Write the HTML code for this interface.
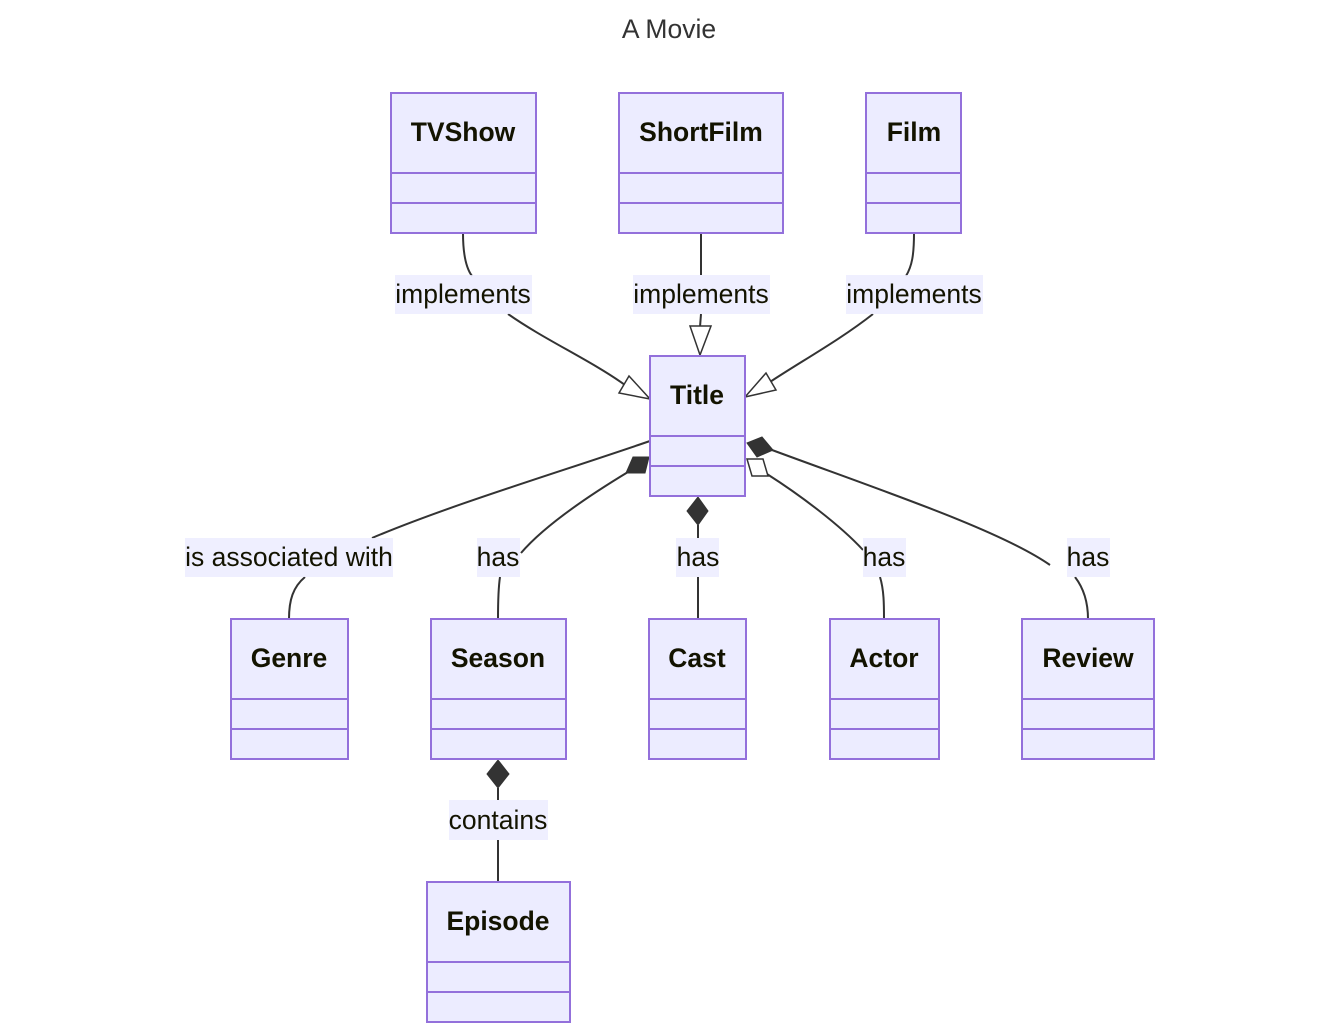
<!DOCTYPE html>
<html><head><meta charset="utf-8"><style>
html,body{margin:0;padding:0;background:#fff;}
svg{display:block;}
.box{fill:#ECECFF;stroke:#9370DB;stroke-width:2;}
.div{stroke:#9370DB;stroke-width:2;}
.cn{font-family:"Liberation Sans",sans-serif;font-weight:bold;font-size:26.5px;fill:#131300;text-anchor:middle;}
.lb{fill:#ECECFF;opacity:0.85;}
.lt{font-family:"Liberation Sans",sans-serif;font-size:26.5px;fill:#131300;text-anchor:middle;}
.e{fill:none;stroke:#333;stroke-width:2;}
.fd{fill:#333;stroke:#333;stroke-width:1;}
.hd{fill:#fff;stroke:#333;stroke-width:1.5;}
</style></head><body>
<svg width="1339" height="1035" viewBox="0 0 1339 1035" xmlns="http://www.w3.org/2000/svg">
<text x="669" y="38" font-family="Liberation Sans, sans-serif" font-size="26.5" fill="#333" text-anchor="middle">A Movie</text>

<path class="e" d="M463,233 C463,255 466,268 472,276"/>
<path class="e" d="M508,314 C545,340 590,360 625,385"/>
<path class="e" d="M701,233 L701,275"/>
<path class="e" d="M701,314 L700,327"/>
<path class="e" d="M914,233 C914,255 912,266 906,276"/>
<path class="e" d="M873,314 C840,340 800,362 770,382"/>
<path class="e" d="M650,441 C560,472 450,505 372,538"/>
<path class="e" d="M305,577 C293,587 289,600 289,619"/>
<path class="e" d="M628,472 C590,495 545,525 521,553"/>
<path class="e" d="M500,577 C498,590 498,605 498,619"/>
<path class="e" d="M698,525 L698,538"/>
<path class="e" d="M698,577 L698,619"/>
<path class="e" d="M767,474 C800,495 840,525 863,550"/>
<path class="e" d="M880,577 C884,590 884,605 884,619"/>
<path class="e" d="M772,450 C880,490 1000,530 1050,565"/>
<path class="e" d="M1075,577 C1085,590 1088,605 1088,619"/>
<path class="e" d="M498,788 L498,800"/>
<path class="e" d="M498,840 L498,882"/>

<polygon class="hd" points="650,399 619,393 629,376"/>
<polygon class="hd" points="700,355 690,326 711,326"/>
<polygon class="hd" points="745,397 776,390 766,373"/>
<polygon class="fd" points="633,457 649,457 645,473 626,473"/>
<polygon class="fd" points="698,497 708,511 698,525 687,511"/>
<polygon class="hd" points="747,459 763,459 768,476 752,476"/>
<polygon class="fd" points="747,443 762,437 773,450 757,457"/>
<polygon class="fd" points="498,760 509,774 498,788 487,774"/>

<rect class="lb" x="395" y="275" width="137" height="39"/><text class="lt" x="463" y="303">implements</text>
<rect class="lb" x="633" y="275" width="137" height="39"/><text class="lt" x="701" y="303">implements</text>
<rect class="lb" x="846" y="275" width="137" height="39"/><text class="lt" x="914" y="303">implements</text>
<rect class="lb" x="185" y="538" width="208" height="39"/><text class="lt" x="289" y="566">is associated with</text>
<rect class="lb" x="477" y="538" width="43" height="39"/><text class="lt" x="498" y="566">has</text>
<rect class="lb" x="676" y="538" width="43" height="39"/><text class="lt" x="698" y="566">has</text>
<rect class="lb" x="863" y="538" width="43" height="39"/><text class="lt" x="884" y="566">has</text>
<rect class="lb" x="1067" y="538" width="43" height="39"/><text class="lt" x="1088" y="566">has</text>
<rect class="lb" x="449" y="800" width="99" height="40"/><text class="lt" x="498" y="829">contains</text>

<g>
<rect class="box" x="391" y="93" width="145" height="140"/><line class="div" x1="391" y1="173" x2="536" y2="173"/><line class="div" x1="391" y1="203" x2="536" y2="203"/><text class="cn" x="463" y="141">TVShow</text>
<rect class="box" x="619" y="93" width="164" height="140"/><line class="div" x1="619" y1="173" x2="783" y2="173"/><line class="div" x1="619" y1="203" x2="783" y2="203"/><text class="cn" x="701" y="141">ShortFilm</text>
<rect class="box" x="866" y="93" width="95" height="140"/><line class="div" x1="866" y1="173" x2="961" y2="173"/><line class="div" x1="866" y1="203" x2="961" y2="203"/><text class="cn" x="914" y="141">Film</text>
<rect class="box" x="650" y="356" width="95" height="140"/><line class="div" x1="650" y1="436" x2="745" y2="436"/><line class="div" x1="650" y1="466" x2="745" y2="466"/><text class="cn" x="697" y="404">Title</text>
<rect class="box" x="231" y="619" width="117" height="140"/><line class="div" x1="231" y1="699" x2="348" y2="699"/><line class="div" x1="231" y1="729" x2="348" y2="729"/><text class="cn" x="289" y="667">Genre</text>
<rect class="box" x="431" y="619" width="135" height="140"/><line class="div" x1="431" y1="699" x2="566" y2="699"/><line class="div" x1="431" y1="729" x2="566" y2="729"/><text class="cn" x="498" y="667">Season</text>
<rect class="box" x="649" y="619" width="97" height="140"/><line class="div" x1="649" y1="699" x2="746" y2="699"/><line class="div" x1="649" y1="729" x2="746" y2="729"/><text class="cn" x="697" y="667">Cast</text>
<rect class="box" x="830" y="619" width="109" height="140"/><line class="div" x1="830" y1="699" x2="939" y2="699"/><line class="div" x1="830" y1="729" x2="939" y2="729"/><text class="cn" x="884" y="667">Actor</text>
<rect class="box" x="1022" y="619" width="132" height="140"/><line class="div" x1="1022" y1="699" x2="1154" y2="699"/><line class="div" x1="1022" y1="729" x2="1154" y2="729"/><text class="cn" x="1088" y="667">Review</text>
<rect class="box" x="427" y="882" width="143" height="140"/><line class="div" x1="427" y1="962" x2="570" y2="962"/><line class="div" x1="427" y1="992" x2="570" y2="992"/><text class="cn" x="498" y="930">Episode</text>
</g>
</svg>
</body></html>
